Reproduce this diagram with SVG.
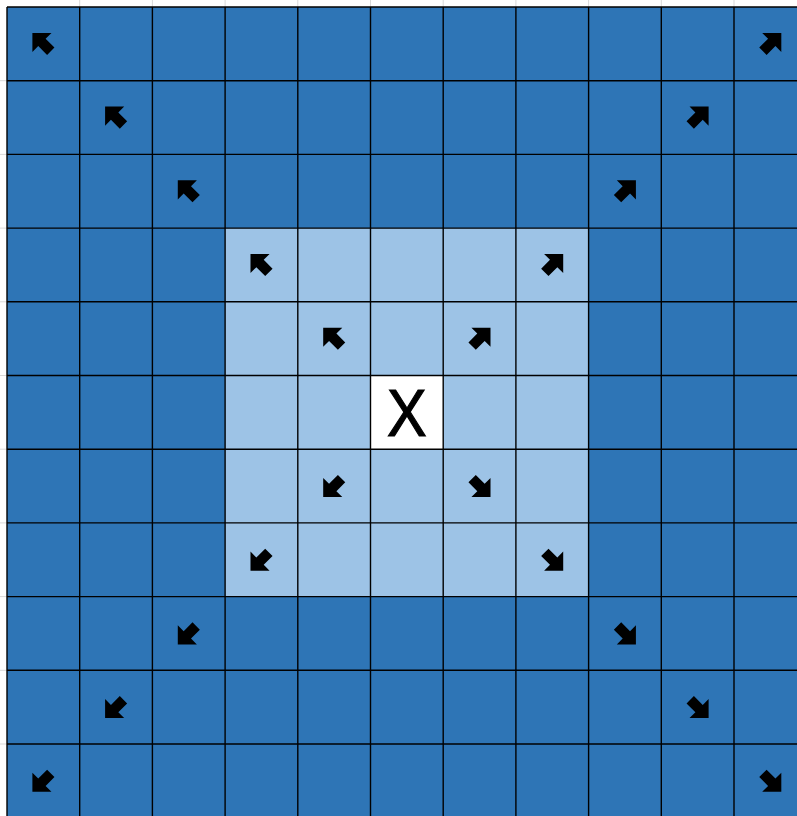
<svg xmlns="http://www.w3.org/2000/svg" xmlns:xlink="http://www.w3.org/1999/xlink" width="797" height="816" viewBox="0 0 797 816">
  <style>
    .dark { fill: #2E75B6; }
    .light { fill: #9DC3E6; }
    .center { fill: #FFFFFF; }
    .grid line { stroke: #000; stroke-width: 1.4; }
    .faint line { stroke: #D9D9D9; stroke-width: 1; }
    .arrow { fill: #000; }
    .label { font-family: "Liberation Sans", Arial, sans-serif; font-size: 66px; fill: #000; stroke: #000; stroke-width: 1.2; }
  </style>
  <defs>
    <path id="arr" d="M0,-15.5 L13.5,-2 L5.2,-2 L5.2,10.5 L-5.2,10.5 L-5.2,-2 L-13.5,-2 Z"/>
  </defs>
  <rect x="0" y="0" width="797" height="816" fill="#FFFFFF"/>
  <g class="faint">
    <line x1="0" y1="80.7" x2="7" y2="80.7"/>
    <line x1="0" y1="154.4" x2="7" y2="154.4"/>
    <line x1="0" y1="228.1" x2="7" y2="228.1"/>
    <line x1="0" y1="301.8" x2="7" y2="301.8"/>
    <line x1="0" y1="375.5" x2="7" y2="375.5"/>
    <line x1="0" y1="449.2" x2="7" y2="449.2"/>
    <line x1="0" y1="522.9" x2="7" y2="522.9"/>
    <line x1="0" y1="596.6" x2="7" y2="596.6"/>
    <line x1="0" y1="670.3" x2="7" y2="670.3"/>
    <line x1="0" y1="744" x2="7" y2="744"/>
    <line x1="79.7" y1="0" x2="79.7" y2="7"/>
    <line x1="152.4" y1="0" x2="152.4" y2="7"/>
    <line x1="225.1" y1="0" x2="225.1" y2="7"/>
    <line x1="297.8" y1="0" x2="297.8" y2="7"/>
    <line x1="370.5" y1="0" x2="370.5" y2="7"/>
    <line x1="443.2" y1="0" x2="443.2" y2="7"/>
    <line x1="515.9" y1="0" x2="515.9" y2="7"/>
    <line x1="588.6" y1="0" x2="588.6" y2="7"/>
    <line x1="661.3" y1="0" x2="661.3" y2="7"/>
    <line x1="734" y1="0" x2="734" y2="7"/>
  </g>
  <g id="cells">
    <rect id="outer-region" class="dark" x="7" y="7" width="800" height="815"/>
    <rect id="inner-region" class="light" x="225.1" y="228.1" width="363.5" height="368.5"/>
    <g id="center-cell">
      <rect class="center" x="370.5" y="375.5" width="72.7" height="73.7"/>
      <text class="label" text-anchor="middle" transform="translate(406.85,436) scale(0.9,1)">X</text>
    </g>
  </g>
  <g id="gridlines" class="grid">
    <line x1="7" y1="7" x2="7" y2="816"/>
    <line x1="79.7" y1="7" x2="79.7" y2="816"/>
    <line x1="152.4" y1="7" x2="152.4" y2="816"/>
    <line x1="225.1" y1="7" x2="225.1" y2="816"/>
    <line x1="297.8" y1="7" x2="297.8" y2="816"/>
    <line x1="370.5" y1="7" x2="370.5" y2="816"/>
    <line x1="443.2" y1="7" x2="443.2" y2="816"/>
    <line x1="515.9" y1="7" x2="515.9" y2="816"/>
    <line x1="588.6" y1="7" x2="588.6" y2="816"/>
    <line x1="661.3" y1="7" x2="661.3" y2="816"/>
    <line x1="734" y1="7" x2="734" y2="816"/>
    <line x1="7" y1="7" x2="797" y2="7"/>
    <line x1="7" y1="80.7" x2="797" y2="80.7"/>
    <line x1="7" y1="154.4" x2="797" y2="154.4"/>
    <line x1="7" y1="228.1" x2="797" y2="228.1"/>
    <line x1="7" y1="301.8" x2="797" y2="301.8"/>
    <line x1="7" y1="375.5" x2="797" y2="375.5"/>
    <line x1="7" y1="449.2" x2="797" y2="449.2"/>
    <line x1="7" y1="522.9" x2="797" y2="522.9"/>
    <line x1="7" y1="596.6" x2="797" y2="596.6"/>
    <line x1="7" y1="670.3" x2="797" y2="670.3"/>
    <line x1="7" y1="744" x2="797" y2="744"/>
  </g>
  <g id="arrows" class="arrow">
    <g id="arrow-r0-c0"><use xlink:href="#arr" href="#arr" transform="translate(43.35,43.85) rotate(-45)"/></g>
    <g id="arrow-r1-c1"><use xlink:href="#arr" href="#arr" transform="translate(116.05,117.55) rotate(-45)"/></g>
    <g id="arrow-r2-c2"><use xlink:href="#arr" href="#arr" transform="translate(188.75,191.25) rotate(-45)"/></g>
    <g id="arrow-r3-c3"><use xlink:href="#arr" href="#arr" transform="translate(261.45,264.95) rotate(-45)"/></g>
    <g id="arrow-r4-c4"><use xlink:href="#arr" href="#arr" transform="translate(334.15,338.65) rotate(-45)"/></g>
    <g id="arrow-r0-c10"><use xlink:href="#arr" href="#arr" transform="translate(770.35,43.85) rotate(45)"/></g>
    <g id="arrow-r1-c9"><use xlink:href="#arr" href="#arr" transform="translate(697.65,117.55) rotate(45)"/></g>
    <g id="arrow-r2-c8"><use xlink:href="#arr" href="#arr" transform="translate(624.95,191.25) rotate(45)"/></g>
    <g id="arrow-r3-c7"><use xlink:href="#arr" href="#arr" transform="translate(552.25,264.95) rotate(45)"/></g>
    <g id="arrow-r4-c6"><use xlink:href="#arr" href="#arr" transform="translate(479.55,338.65) rotate(45)"/></g>
    <g id="arrow-r6-c4"><use xlink:href="#arr" href="#arr" transform="translate(334.15,486.05) rotate(-135)"/></g>
    <g id="arrow-r7-c3"><use xlink:href="#arr" href="#arr" transform="translate(261.45,559.75) rotate(-135)"/></g>
    <g id="arrow-r8-c2"><use xlink:href="#arr" href="#arr" transform="translate(188.75,633.45) rotate(-135)"/></g>
    <g id="arrow-r9-c1"><use xlink:href="#arr" href="#arr" transform="translate(116.05,707.15) rotate(-135)"/></g>
    <g id="arrow-r10-c0"><use xlink:href="#arr" href="#arr" transform="translate(43.35,780.85) rotate(-135)"/></g>
    <g id="arrow-r6-c6"><use xlink:href="#arr" href="#arr" transform="translate(479.55,486.05) rotate(135)"/></g>
    <g id="arrow-r7-c7"><use xlink:href="#arr" href="#arr" transform="translate(552.25,559.75) rotate(135)"/></g>
    <g id="arrow-r8-c8"><use xlink:href="#arr" href="#arr" transform="translate(624.95,633.45) rotate(135)"/></g>
    <g id="arrow-r9-c9"><use xlink:href="#arr" href="#arr" transform="translate(697.65,707.15) rotate(135)"/></g>
    <g id="arrow-r10-c10"><use xlink:href="#arr" href="#arr" transform="translate(770.35,780.85) rotate(135)"/></g>
  </g>
</svg>
